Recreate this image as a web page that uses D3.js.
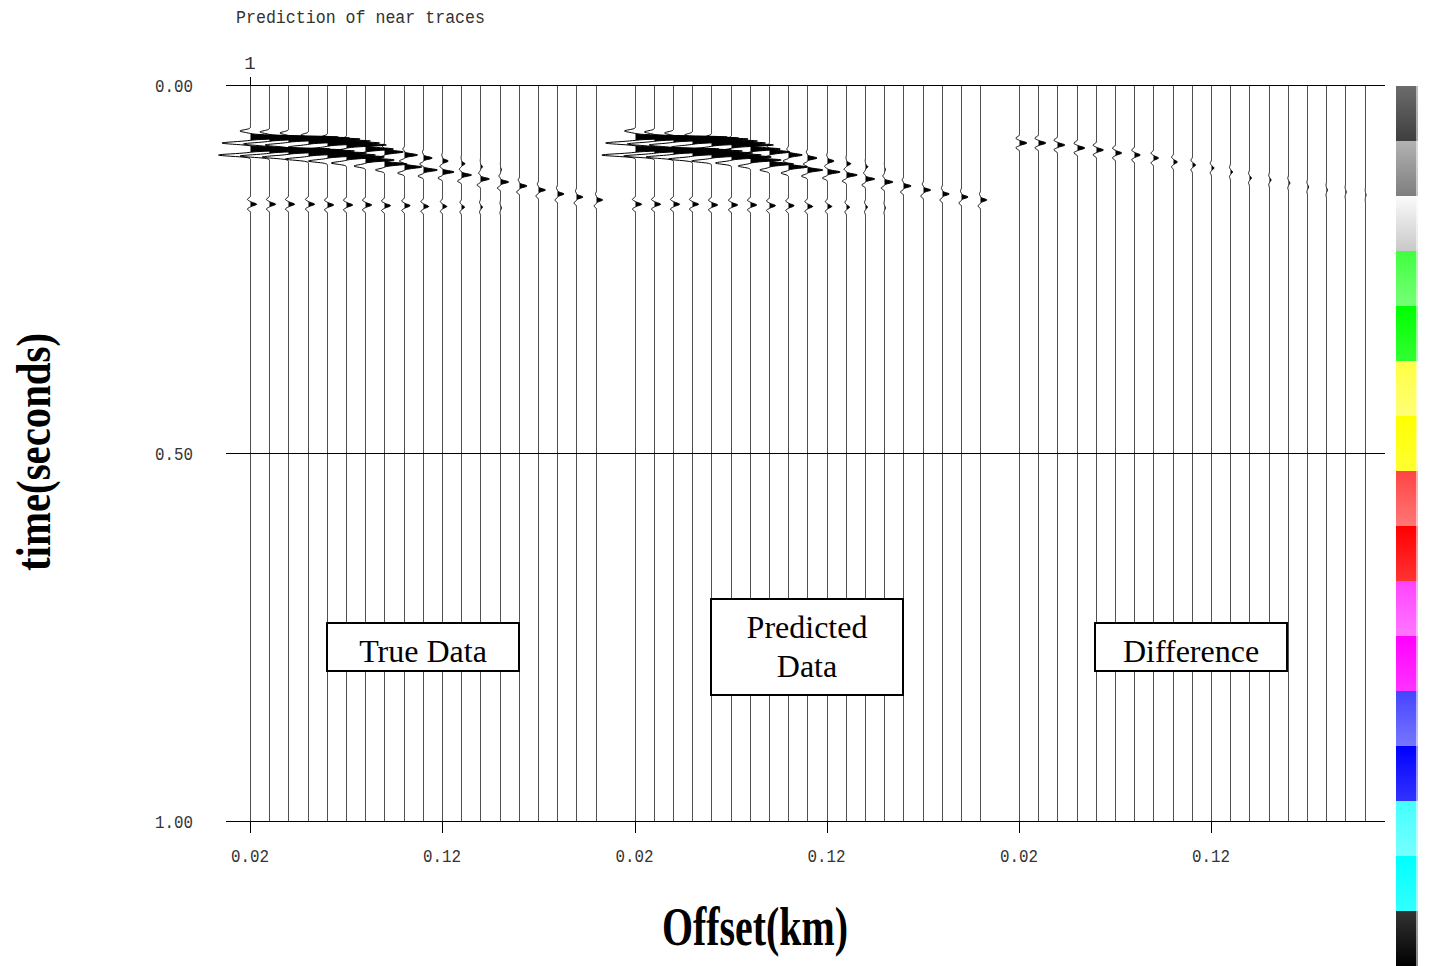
<!DOCTYPE html>
<html>
<head>
<meta charset="utf-8">
<script src="https://cdn.jsdelivr.net/npm/d3@7"></script>
<style>
  html, body { margin: 0; padding: 0; background: #fff; }
  svg { display: block; }
  .mono { font-family: "Liberation Mono", "DejaVu Sans Mono", monospace; font-size: 19px; fill: #333; }
  .big { font-family: "Liberation Serif", "Times New Roman", serif; font-weight: bold; fill: #000; }
  .box text { font-family: "Liberation Serif", "Times New Roman", serif; font-size: 32px; fill: #000; }
</style>
</head>
<body>
<div id="chart"></div>
<script>
// trace offsets (km) shared by the three panels
const offsets = [0.02, 0.03, 0.04, 0.05, 0.06, 0.07, 0.08, 0.09, 0.10, 0.11,
                 0.12, 0.13, 0.14, 0.15, 0.16, 0.17, 0.18, 0.19, 0.20];
const xTickValues = [0.02, 0.12];
const yTickValues = [0.00, 0.50, 1.00];

// event A (upper lobe) arrival time (s) and amplitude (in trace spacings)
const trueTimeA = [0.0707, 0.0720, 0.0734, 0.0761, 0.0788, 0.0815, 0.0870, 0.0910, 0.0951, 0.0992,
                   0.1033, 0.1070, 0.1110, 0.1150, 0.1190, 0.1230, 0.1270, 0.1310, 0.1350];
const trueAmpA  = [4.58, 4.17, 3.75, 3.23, 2.71, 2.08, 1.46, 0.98, 0.68, 0.46,
                   0.30, 0.18, 0.10, 0.05, 0, 0, 0, 0, 0];
// event B (lower lobe)
const trueTimeB = [0.0870, 0.0883, 0.0897, 0.0924, 0.0951, 0.0978, 0.1019, 0.1073, 0.1114, 0.1155,
                   0.1182, 0.1223, 0.1277, 0.1318, 0.1372, 0.1427, 0.1481, 0.1522, 0.1562];
const trueAmpB  = [4.17, 3.85, 3.44, 3.02, 2.50, 1.98, 1.50, 1.18, 0.90, 0.72,
                   0.60, 0.52, 0.46, 0.42, 0.39, 0.36, 0.34, 0.33, 0.32];
// event C (flat, deeper)
const timeC     = [0.162, 0.162, 0.162, 0.162, 0.163, 0.163, 0.163, 0.164, 0.164, 0.165,
                   0.165, 0.166, 0.166, 0.167, 0.168, 0.168, 0.169, 0.170, 0.170];
const ampC      = [0.32, 0.32, 0.32, 0.32, 0.32, 0.32, 0.32, 0.31, 0.29, 0.27,
                   0.22, 0.16, 0.10, 0.05, 0, 0, 0, 0, 0];

const predAmpA  = [4.79, 4.38, 3.91, 3.39, 2.81, 2.19, 1.56, 1.06, 0.72, 0.50,
                   0.34, 0.22, 0.12, 0.05, 0, 0, 0, 0, 0];
const predAmpB  = [4.38, 4.01, 3.59, 3.13, 2.60, 2.08, 1.60, 1.26, 0.98, 0.80,
                   0.66, 0.56, 0.48, 0.44, 0.40, 0.37, 0.35, 0.34, 0.33];

// difference panel residual event
const diffTime  = [0.0788, 0.0788, 0.0815, 0.0856, 0.0883, 0.0924, 0.0951, 0.0992, 0.1046, 0.1087,
                   0.1128, 0.1182, 0.1264, 0.1291, 0.1332, 0.1386, 0.1427, 0.1454, 0.1495];
const diffAmp   = [0.38, 0.38, 0.38, 0.38, 0.36, 0.32, 0.30, 0.26, 0.20, 0.16,
                   0.13, 0.11, 0.10, 0.08, 0.07, 0.06, 0.05, 0.04, 0.03];

const colorTop    = ["#6c6c6c", "#b2b2b2", "#fbfbfb", "#40ff40", "#00ff00", "#ffff44", "#ffff00", "#ff4444",
                     "#ff0000", "#ff44ff", "#ff00ff", "#4444ff", "#0000ff", "#44ffff", "#00ffff", "#333333"];
const colorBottom = ["#3e3e3e", "#7e7e7e", "#c8c8c8", "#77ff77", "#33ff33", "#ffff77", "#ffff33", "#ff7777",
                     "#ff3333", "#ff77ff", "#ff33ff", "#7777ff", "#3333ff", "#77ffff", "#33ffff", "#000000"];

const width = 1429, height = 966;
const svg = d3.select("#chart").append("svg")
    .attr("width", width)
    .attr("height", height);

const plotLeft = 226, plotRight = 1385;
const panelShift = 384.5;
const y = d3.scaleLinear().domain([0, 1]).range([85, 821]);
const xScales = [0, 1, 2].map(p => d3.scaleLinear()
    .domain([0.02, 0.12])
    .range([250 + p * panelShift, 442 + p * panelShift]));
const step = 0.01;

const gauss = (u, s) => Math.exp(-(u * u) / (s * s));
// sharp spike with small negative side lobes (before / after)
const spike = (u, before, after, w, d) =>
    gauss(u, w) - before * gauss(u + d, w) - after * gauss(u - d, w);

const times = d3.range(0, 1.0002, 0.0004);

function traceValue(p, i, t) {
    if (p === 2) {
        return diffAmp[i] * spike(t - diffTime[i], 0.5, 0.5, 0.0024, 0.0066);
    }
    const aA = p === 0 ? trueAmpA[i] : predAmpA[i];
    const aB = p === 0 ? trueAmpB[i] : predAmpB[i];
    return aA * spike(t - trueTimeA[i], 0.12, 0.17, 0.0023, 0.0082)
         + aB * spike(t - trueTimeB[i], 0.17, 0.4, 0.0023, 0.0082)
         + ampC[i] * spike(t - timeC[i], 0.5, 0.5, 0.0024, 0.0066);
}

// horizontal axis lines
svg.append("g").selectAll("line")
    .data(yTickValues)
    .join("line")
    .attr("x1", plotLeft).attr("x2", plotRight)
    .attr("y1", d => Math.round(y(d)) + 0.5).attr("y2", d => Math.round(y(d)) + 0.5)
    .attr("stroke", "#000").attr("stroke-width", 1);

// traces
const tracesG = svg.append("g");
[0, 1, 2].forEach(p => {
    const x = xScales[p];
    offsets.forEach((off, i) => {
        const base = Math.round(x(off)) + 0.5;
        const amp = d3.scaleLinear().domain([0, 1]).range([0, x(off + step) - x(off)]);
        const pts = times.map(t => ({ t, v: traceValue(p, i, t) }));

        tracesG.append("path")
            .datum(pts)
            .attr("fill", "#000")
            .attr("d", d3.area()
                .y(d => y(d.t))
                .x0(base)
                .x1(d => base + amp(Math.max(0, d.v))));

        tracesG.append("path")
            .datum(pts)
            .attr("fill", "none")
            .attr("stroke", "#000")
            .attr("stroke-width", 1)
            .attr("d", d3.line()
                .y(d => y(d.t))
                .x(d => base + amp(d.v)));
    });

    // bottom ticks and labels
    const ax = svg.append("g");
    ax.selectAll("line")
        .data(xTickValues)
        .join("line")
        .attr("x1", d => Math.round(x(d)) + 0.5).attr("x2", d => Math.round(x(d)) + 0.5)
        .attr("y1", y(1)).attr("y2", y(1) + 12)
        .attr("stroke", "#000");
    ax.selectAll("text")
        .data(xTickValues)
        .join("text")
        .attr("class", "mono")
        .attr("x", d => x(d))
        .attr("y", 862)
        .attr("text-anchor", "middle")
        .attr("textLength", 38)
        .attr("lengthAdjust", "spacingAndGlyphs")
        .text(d => d3.format(".2f")(d));
});

// y tick labels
svg.append("g").selectAll("text")
    .data(yTickValues)
    .join("text")
    .attr("class", "mono")
    .attr("x", 193)
    .attr("y", d => y(d) + 7)
    .attr("text-anchor", "end")
    .attr("textLength", 38)
    .attr("lengthAdjust", "spacingAndGlyphs")
    .text(d => d3.format(".2f")(d));

// trace number on top
svg.append("line")
    .attr("x1", Math.round(xScales[0](0.02)) + 0.5).attr("x2", Math.round(xScales[0](0.02)) + 0.5)
    .attr("y1", y(0) - 8).attr("y2", y(0))
    .attr("stroke", "#000");
svg.append("text")
    .attr("class", "mono")
    .attr("x", xScales[0](0.02))
    .attr("y", 69)
    .attr("text-anchor", "middle")
    .text("1");

// title
svg.append("text")
    .attr("class", "mono")
    .attr("x", 236)
    .attr("y", 23)
    .attr("textLength", 249)
    .attr("lengthAdjust", "spacingAndGlyphs")
    .text("Prediction of near traces");

// axis titles
svg.append("text")
    .attr("class", "big")
    .attr("transform", "translate(50,452) rotate(-90)")
    .attr("text-anchor", "middle")
    .attr("font-size", 48)
    .attr("textLength", 238)
    .attr("lengthAdjust", "spacingAndGlyphs")
    .text("time(seconds)");

svg.append("text")
    .attr("class", "big")
    .attr("x", 755)
    .attr("y", 945)
    .attr("text-anchor", "middle")
    .attr("font-size", 54)
    .attr("textLength", 186)
    .attr("lengthAdjust", "spacingAndGlyphs")
    .text("Offset(km)");

// panel label boxes
const boxes = [
    { x: 327, y: 623, w: 192, h: 48, lines: ["True Data"], base: 662 },
    { x: 711, y: 599, w: 192, h: 96, lines: ["Predicted", "Data"], base: 638 },
    { x: 1095, y: 623, w: 192, h: 48, lines: ["Difference"], base: 662 }
];
boxes.forEach(b => {
    const g = svg.append("g").attr("class", "box");
    g.append("rect")
        .attr("x", b.x).attr("y", b.y).attr("width", b.w).attr("height", b.h)
        .attr("fill", "#fff").attr("stroke", "#000").attr("stroke-width", 2);
    g.selectAll("text")
        .data(b.lines)
        .join("text")
        .attr("x", b.x + b.w / 2)
        .attr("y", (d, j) => b.base + j * 39)
        .attr("text-anchor", "middle")
        .text(d => d);
});

// colour bar
const defs = svg.append("defs");
const barY = d3.scaleBand().domain(d3.range(colorTop.length)).range([86, 966]);
colorTop.forEach((c, k) => {
    const grad = defs.append("linearGradient")
        .attr("id", "cb" + k)
        .attr("x1", 0).attr("x2", 0).attr("y1", 0).attr("y2", 1);
    grad.append("stop").attr("offset", "0%").attr("stop-color", c);
    grad.append("stop").attr("offset", "100%").attr("stop-color", colorBottom[k]);
});
svg.append("g").selectAll("rect")
    .data(d3.range(colorTop.length))
    .join("rect")
    .attr("x", 1396)
    .attr("y", k => barY(k))
    .attr("width", 22)
    .attr("height", barY.bandwidth() + 0.5)
    .attr("fill", k => `url(#cb${k})`);
svg.append("rect")
    .attr("x", 1416).attr("y", 86).attr("width", 2).attr("height", 880)
    .attr("fill", "#fff").attr("opacity", 0.55);
</script>
</body>
</html>
